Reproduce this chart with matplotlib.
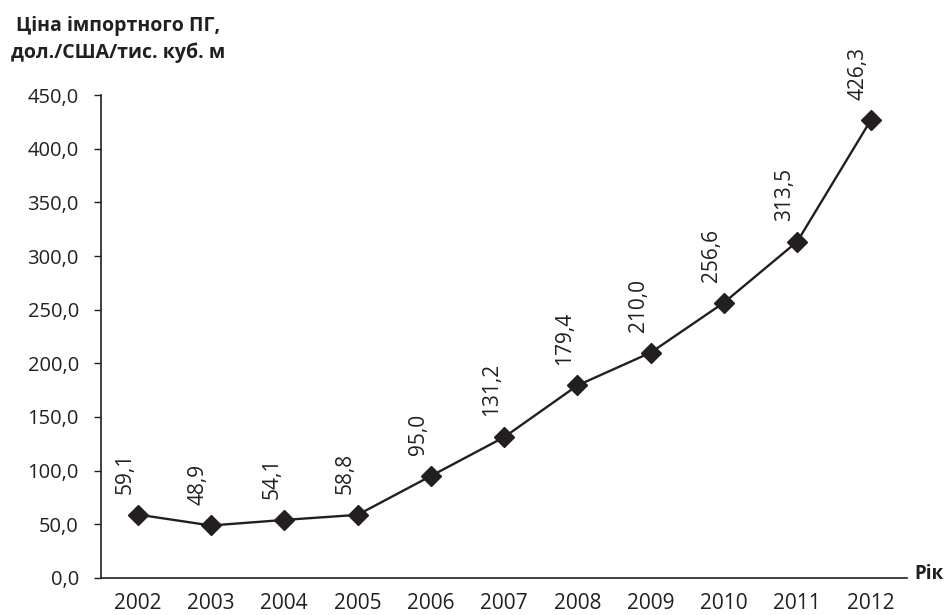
import matplotlib.pyplot as plt

plt.rcParams['font.family'] = ['Open Sans', 'DejaVu Sans']

# Data
years = ['2002', '2003', '2004', '2005', '2006', '2007', '2008', '2009', '2010', '2011', '2012']
prices = [59.1, 48.9, 54.1, 58.8, 95.0, 131.2, 179.4, 210.0, 256.6, 313.5, 426.3]
y_ticks = [0, 50, 100, 150, 200, 250, 300, 350, 400, 450]

ink = '#231f20'

fig = plt.figure(figsize=(9.53, 6.15), dpi=100)
ax = fig.add_axes([0.106, 0.0602, 0.846, 0.7853])

x = list(range(len(years)))
ax.plot(x, prices, color=ink, linewidth=1.7, marker='D', markersize=10.5, zorder=3)

# value labels, rotated above each point
for xi, v in zip(x, prices):
    ax.annotate(f'{v:.1f}'.replace('.', ','), (xi, v), xytext=(-9, 15),
                textcoords='offset points', rotation=90, ha='center', va='bottom',
                fontsize=15, color=ink)

ax.set_xlim(-0.5, len(years) - 0.5)
ax.set_ylim(0, 450)
ax.set_xticks(x)
ax.set_xticklabels(years)
ax.set_yticks(y_ticks)
ax.set_yticklabels([f'{t:.1f}'.replace('.', ',') for t in y_ticks])

ax.tick_params(axis='x', length=0, pad=11, labelsize=15, colors=ink)
ax.tick_params(axis='y', length=5, width=1, direction='out', pad=11, labelsize=14.5, colors=ink)

for s in ['top', 'right']:
    ax.spines[s].set_visible(False)
for s in ['left', 'bottom']:
    ax.spines[s].set_color(ink)
    ax.spines[s].set_linewidth(1.2)

fig.text(0.124, 0.9496, 'Ціна імпортного ПГ,', ha='center', va='baseline',
         fontsize=14, fontweight='bold', color=ink)
fig.text(0.124, 0.9057, 'дол./США/тис. куб. м', ha='center', va='baseline',
         fontsize=14, fontweight='bold', color=ink)
fig.text(0.99, 0.066, 'Рік', ha='right', va='center', fontsize=13.5,
         fontweight='bold', color=ink)

fig.savefig('out.png', dpi=100)
